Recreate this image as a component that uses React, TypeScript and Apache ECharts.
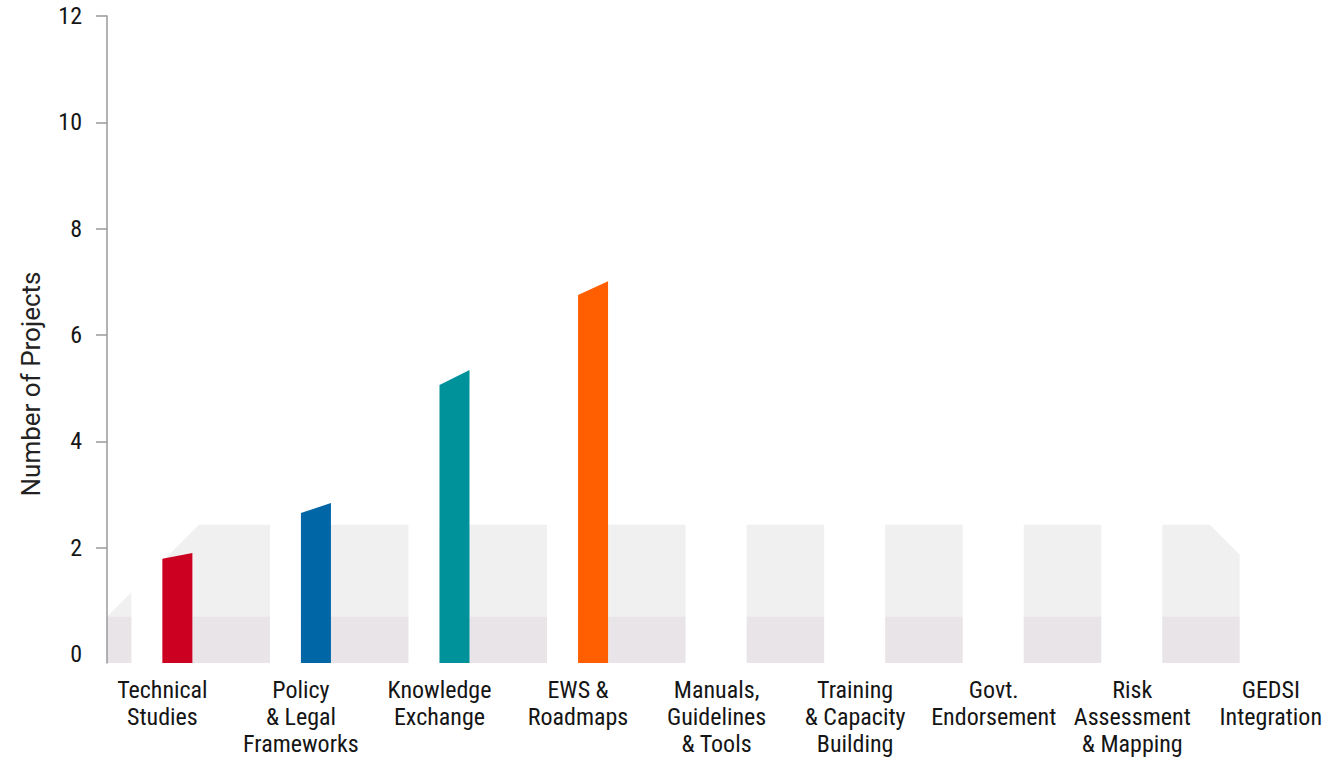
import React, { useEffect, useRef } from "react";
import * as echarts from "echarts";

const categories = [
  "Technical\nStudies",
  "Policy\n& Legal\nFrameworks",
  "Knowledge\nExchange",
  "EWS &\nRoadmaps",
  "Manuals,\nGuidelines\n& Tools",
  "Training\n& Capacity\nBuilding",
  "Govt.\nEndorsement",
  "Risk\nAssessment\n& Mapping",
  "GEDSI\nIntegration",
];
// height of each bar at its right (higher) edge
const projectCounts = [1.9, 2.84, 5.34, 7.01, 0, 0, 0, 0, 0];
// height of each bar at its left (lower) edge of the slanted top
const slantLeftTops = [1.79, 2.65, 5.06, 6.75, 0, 0, 0, 0, 0];
const barColors = ["#CC0020", "#0066A6", "#00929A", "#FF5F00", "#999", "#999", "#999", "#999", "#999"];
const yLabelValues = [0, 2, 4, 6, 8, 10, 12];
const yTickValues = [2, 4, 6, 8, 10, 12];
// decorative backdrop bands (value units)
const backdropBands = [0.7, 2.43];
const axisBase = -0.17;

const LABEL_FONT = "'Roboto Condensed', 'Liberation Sans Narrow', 'DejaVu Sans Condensed', Roboto, sans-serif";

export default function App() {
  const ref = useRef<HTMLDivElement>(null);
  useEffect(() => {
    const chart = echarts.init(ref.current!, null, { renderer: "svg" });
    const option: any = {
      animation: false,
      backgroundColor: "#ffffff",
      grid: { left: 93.1, top: 16, width: 1247, bottom: 99, containLabel: false, outerBoundsMode: "none" },
      xAxis: {
        type: "category",
        data: categories,
        axisLine: { show: false },
        axisTick: { show: false },
        splitLine: { show: false },
        axisLabel: {
          interval: 0,
          margin: 13,
          fontSize: 24,
          lineHeight: 27,
          fontFamily: LABEL_FONT,
          color: "#151515",
          align: "center",
          hideOverlap: false,
        },
      },
      yAxis: {
        type: "value",
        min: axisBase,
        max: 12,
        offset: -13.9,
        z: 10,
        axisLine: { show: true, lineStyle: { color: "#9a9a9a", width: 1.5 } },
        axisTick: { show: true, length: 11, inside: false, customValues: yTickValues, lineStyle: { color: "#9a9a9a", width: 1.5 } },
        splitLine: { show: false },
        axisLabel: {
          customValues: yLabelValues,
          margin: 25,
          fontSize: 24,
          fontFamily: LABEL_FONT,
          color: "#151515",
        },
      },
      graphic: [
        {
          type: "text",
          x: 31,
          y: 384,
          rotation: Math.PI / 2,
          style: {
            text: "Number of Projects",
            fontSize: 26,
            fontFamily: "Roboto, sans-serif",
            fill: "#222",
            align: "center",
            verticalAlign: "middle",
          },
        },
      ],
      series: [
        {
          type: "custom",
          name: "backdrop",
          z: 1,
          silent: true,
          data: [[0, 0]],
          renderItem: (params: any, api: any) => {
            const B = api.size([1, 0])[0];
            const c0 = api.coord([0, 0])[0];
            const cLast = api.coord([categories.length - 2, 0])[0];
            const left = c0 - B * 0.4;
            const right = cLast + B * 0.776;
            const yTop = api.coord([0, backdropBands[1]])[1];
            const yMid = api.coord([0, backdropBands[0]])[1];
            const yBase = api.coord([0, axisBase])[1];
            const ch = 30;
            return {
              type: "group",
              children: [
                {
                  type: "polygon",
                  shape: {
                    points: [
                      [left, yMid],
                      [left + (yMid - yTop), yTop],
                      [right - ch, yTop],
                      [right, yTop + ch],
                      [right, yBase],
                      [left, yBase],
                    ],
                  },
                  style: { fill: "#F0F0F0" },
                },
                {
                  type: "rect",
                  shape: { x: left, y: yMid, width: right - left, height: yBase - yMid },
                  style: { fill: "#E8E4E7" },
                },
              ],
            };
          },
        },
        {
          type: "custom",
          name: "Number of Projects",
          z: 3,
          data: categories.map((_, i) => [i, projectCounts[i], slantLeftTops[i]]),
          encode: { x: 0, y: 1 },
          renderItem: (params: any, api: any) => {
            const i = api.value(0) as number;
            const v = api.value(1) as number;
            const vl = api.value(2) as number;
            const B = api.size([1, 0])[0];
            const c = api.coord([i, 0])[0];
            const yb = api.coord([i, axisBase])[1];
            const yTop = api.coord([i, backdropBands[1]])[1];
            const slotL = c;
            const slotR = c + B * 0.2165;
            const stripeL = c - B * 0.2237;
            const children: any[] = [
              {
                type: "rect",
                shape: { x: stripeL, y: yTop - 1, width: (v > 0 ? slotL : slotR) - stripeL, height: yb - yTop + 1 },
                style: { fill: "#ffffff" },
              },
            ];
            if (v > 0) {
              const yr = api.coord([i, v])[1];
              const yl = api.coord([i, vl])[1];
              children.push({
                type: "polygon",
                shape: { points: [[slotL, yb], [slotL, yl], [slotR, yr], [slotR, yb]] },
                style: { fill: barColors[i] },
              });
            }
            return { type: "group", children };
          },
        },
      ],
    };
    chart.setOption(option);
    return () => chart.dispose();
  }, []);
  return (
    <div
      ref={ref}
      style={{ position: "fixed", left: 0, top: 0, width: 1332, height: 762, background: "#fff" }}
    />
  );
}
